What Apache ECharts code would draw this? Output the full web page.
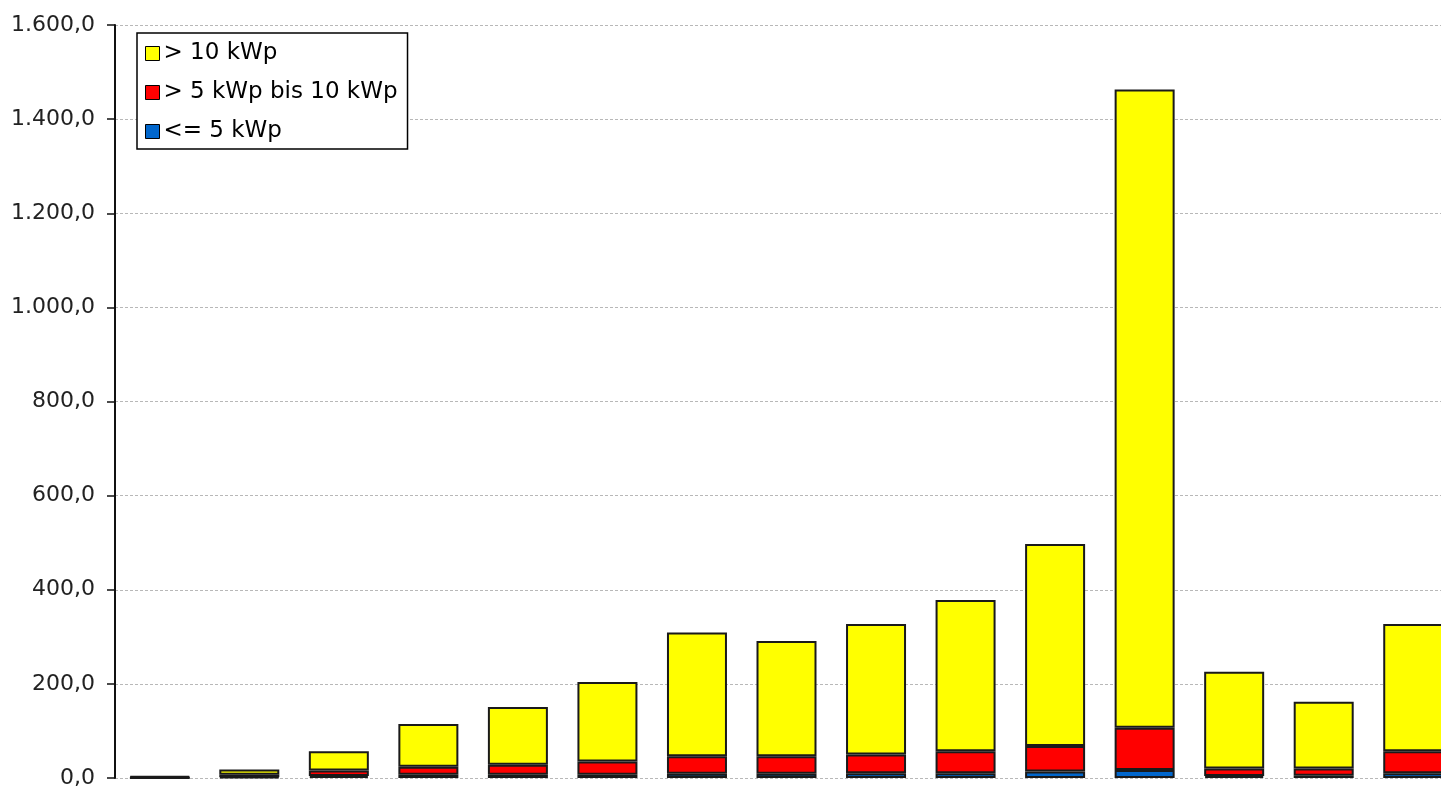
<!DOCTYPE html>
<html>
<head>
<meta charset="utf-8">
<script src="https://cdn.jsdelivr.net/npm/echarts@6/dist/echarts.min.js"></script>
<style>
html,body{margin:0;padding:0;background:#fff;overflow:hidden;width:1441px;height:789px;}
#chart{width:1458px;height:789px;}
</style>
</head>
<body>
<div id="chart"></div>
<script>
var categories = ['1','2','3','4','5','6','7','8','9','10','11','12','13','14','15'];
var seriesNames = ['<= 5 kWp', '> 5 kWp bis 10 kWp', '> 10 kWp'];
var small = [0.5, 2, 4, 7, 7, 7, 9, 9, 10, 10, 14, 17, 4, 5, 10];
var medium = [1, 5, 12, 17, 21, 28, 37, 37, 40, 47, 54, 90, 16, 15, 47];
var large = [2, 11, 41, 91, 123, 169, 263, 245, 277, 321, 429, 1356, 206, 142, 270];
var yTicks = [0, 200, 400, 600, 800, 1000, 1200, 1400, 1600];

function fmt(v) {
  var s = Math.round(v).toString();
  s = s.replace(/\B(?=(\d{3})+(?!\d))/g, '.');
  return s + ',0';
}

var chart = echarts.init(document.getElementById('chart'));
var font = 'DejaVu Sans';
var barStyle = function (c) {
  return { color: c, borderColor: '#1a1a1a', borderWidth: 2 };
};
chart.setOption({
  animation: false,
  backgroundColor: '#fff',
  grid: { left: 115, top: 25, bottom: 10.5, right: 0, containLabel: false },
  legend: {
    orient: 'vertical',
    left: 137,
    top: 33,
    data: [seriesNames[2], seriesNames[1], seriesNames[0]],
    icon: 'rect',
    itemWidth: 14,
    itemHeight: 14,
    itemGap: 16,
    padding: [9, 10, 6, 8],
    borderColor: '#000',
    borderWidth: 1.5,
    backgroundColor: '#fff',
    textStyle: { fontFamily: font, fontSize: 23, color: '#000', padding: [0, 0, 0, -1] },
    itemStyle: { borderColor: '#000', borderWidth: 1 }
  },
  xAxis: {
    type: 'category',
    data: categories,
    axisLine: { show: false },
    axisTick: { show: false },
    axisLabel: { show: false }
  },
  yAxis: {
    type: 'value',
    min: yTicks[0],
    max: yTicks[yTicks.length - 1],
    interval: yTicks[1] - yTicks[0],
    axisLine: { show: true, lineStyle: { color: '#111', width: 2 } },
    axisTick: { show: true, length: 8, lineStyle: { color: '#111', width: 1.5 } },
    axisLabel: {
      margin: 20,
      fontFamily: font,
      fontSize: 22,
      color: '#222',
      formatter: function (v) { return fmt(v); }
    },
    splitLine: { show: true, lineStyle: { color: '#b8b8b8', type: [3, 2], width: 1 } }
  },
  series: [
    { name: seriesNames[0], type: 'bar', stack: 'a', data: small, barWidth: 60, itemStyle: barStyle('#0066CC') },
    { name: seriesNames[1], type: 'bar', stack: 'a', data: medium, barWidth: 60, itemStyle: barStyle('#FF0000') },
    { name: seriesNames[2], type: 'bar', stack: 'a', data: large, barWidth: 60, itemStyle: barStyle('#FFFF00') }
  ]
});
</script>
</body>
</html>
